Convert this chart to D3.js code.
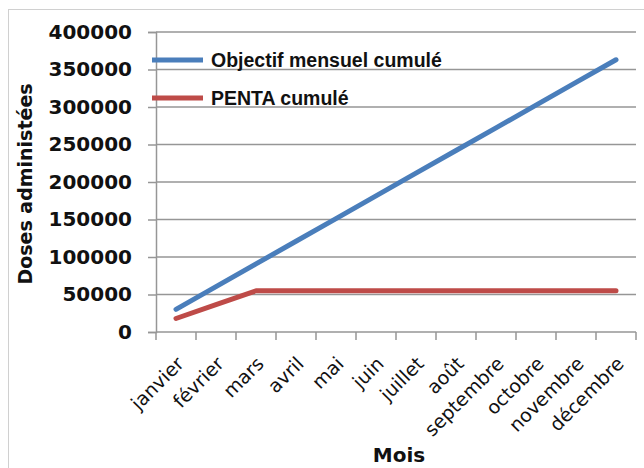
<!DOCTYPE html>
<html>
<head>
<meta charset="utf-8">
<script src="https://cdn.jsdelivr.net/npm/d3@7"></script>
<style>
  body { margin: 0; background: #fff; }
  svg { display: block; }
</style>
</head>
<body>
<svg width="644" height="468"></svg>
<script>
// Data
let months = ['janvier', 'février', 'mars', 'avril', 'mai', 'juin', 'juillet', 'août', 'septembre', 'octobre', 'novembre', 'décembre'];
let objectif = [30250, 60500, 90750, 121000, 151250, 181500, 211750, 242000, 272250, 302500, 332750, 363000];
let penta = [18000, 36500, 55000, 55000, 55000, 55000, 55000, 55000, 55000, 55000, 55000, 55000];
let yTicks = [0, 50000, 100000, 150000, 200000, 250000, 300000, 350000, 400000];
let seriesNames = ['Objectif mensuel cumulé', 'PENTA cumulé'];
let seriesColors = ['#4a7ebb', '#be4b48'];

let svg = d3.select('svg');
let width = +svg.attr('width');
let height = +svg.attr('height');
let margin = { top: 32, right: 8, bottom: 136, left: 156 };

// Outer chart border
svg.append('rect')
    .attr('x', 8.5).attr('y', 9.5)
    .attr('width', 660).attr('height', 480)
    .attr('fill', 'none')
    .attr('stroke', '#a0a0a0')
    .attr('stroke-dasharray', '1,1');

let x = d3.scaleBand()
    .domain(months)
    .range([margin.left, width - margin.right]);
let y = d3.scaleLinear()
    .domain([0, 400000])
    .range([height - margin.bottom, margin.top]);

// Gridlines
svg.append('g')
    .selectAll('line')
    .data(yTicks.slice(1))
    .enter().append('line')
    .attr('x1', margin.left).attr('x2', width - margin.right)
    .attr('y1', d => y(d)).attr('y2', d => y(d))
    .attr('stroke', '#969696')
    .attr('stroke-width', 1.5);

// Y axis
let yAxis = svg.append('g')
    .attr('transform', 'translate(' + margin.left + ',0)')
    .call(d3.axisLeft(y).tickValues(yTicks).tickSize(8).tickPadding(16).tickFormat(d3.format('d')));
yAxis.select('.domain').attr('stroke', '#969696').attr('stroke-width', 1.5);
yAxis.selectAll('.tick line').attr('stroke', '#969696').attr('stroke-width', 1.5);
yAxis.selectAll('text')
    .attr('font-family', 'DejaVu Sans')
    .attr('font-weight', 'bold')
    .attr('font-size', '20px')
    .attr('fill', '#111');

// X axis line and boundary ticks
let x0 = height - margin.bottom;
svg.append('line')
    .attr('x1', margin.left).attr('x2', width - margin.right)
    .attr('y1', x0).attr('y2', x0)
    .attr('stroke', '#969696').attr('stroke-width', 1.5);
svg.append('g')
    .selectAll('line')
    .data(months.map(m => x(m)).concat([x.range()[1]]))
    .enter().append('line')
    .attr('x1', d => d).attr('x2', d => d)
    .attr('y1', x0).attr('y2', x0 + 8)
    .attr('stroke', '#969696').attr('stroke-width', 1.5);

// Month labels, rotated
svg.append('g')
    .selectAll('text')
    .data(months)
    .enter().append('text')
    .attr('transform', d => 'translate(' + (x(d) + x.bandwidth() / 2 + 9) + ',' + (x0 + 33) + ')rotate(-45)')
    .attr('text-anchor', 'end')
    .attr('font-family', 'DejaVu Sans')
    .attr('font-size', '19px')
    .attr('fill', '#111')
    .text(d => d);

// Lines
let line = d3.line()
    .x((d, i) => x(months[i]) + x.bandwidth() / 2)
    .y(d => y(d));

[objectif, penta].forEach((s, i) => {
    svg.append('path')
        .datum(s)
        .attr('d', line)
        .attr('fill', 'none')
        .attr('stroke', seriesColors[i])
        .attr('stroke-width', 5)
        .attr('stroke-linecap', 'round')
        .attr('stroke-linejoin', 'round');
});

// Legend
let legend = svg.append('g');
seriesNames.forEach((name, i) => {
    let ly = 60 + i * 38;
    legend.append('line')
        .attr('x1', 152).attr('x2', 203)
        .attr('y1', ly).attr('y2', ly)
        .attr('stroke', seriesColors[i])
        .attr('stroke-width', 5);
    legend.append('text')
        .attr('x', 211).attr('y', ly + 7)
        .attr('font-family', 'Liberation Sans')
        .attr('font-weight', 'bold')
        .attr('font-size', '19.5px')
        .attr('fill', '#111')
        .text(name);
});

// Axis titles
svg.append('text')
    .attr('text-anchor', 'middle')
    .attr('transform', 'translate(32,' + 184 + ')rotate(-90)')
    .attr('font-family', 'DejaVu Sans')
    .attr('font-weight', 'bold')
    .attr('font-size', '19px')
    .attr('fill', '#111')
    .text('Doses administées');

svg.append('text')
    .attr('text-anchor', 'middle')
    .attr('x', 399).attr('y', 462)
    .attr('font-family', 'DejaVu Sans')
    .attr('font-weight', 'bold')
    .attr('font-size', '20px')
    .attr('fill', '#111')
    .text('Mois');
</script>
</body>
</html>
